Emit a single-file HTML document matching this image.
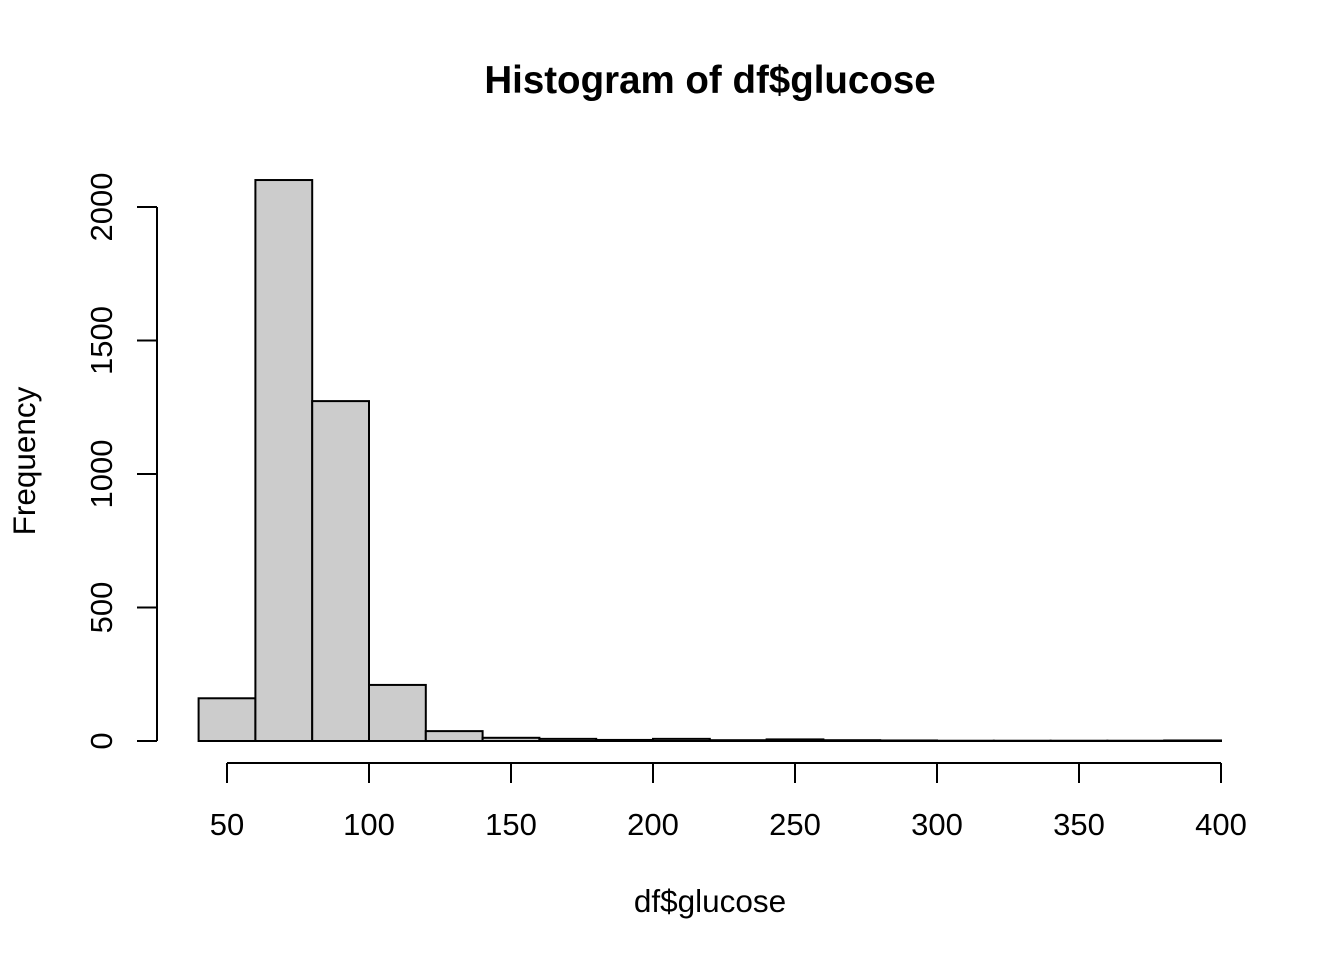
<!DOCTYPE html>
<html><head><meta charset="utf-8"><style>
html,body{margin:0;padding:0;background:#fff;}
svg{display:block;font-family:"Liberation Sans",Arial,sans-serif;}
</style></head><body>
<svg id="chart" width="1344" height="960" viewBox="0 0 1344 960">
<text x="710" y="93" text-anchor="middle" font-size="38.5" font-weight="bold">Histogram of df$glucose</text>
<text x="710" y="912" text-anchor="middle" font-size="31.5">df$glucose</text>
<text transform="translate(35,461) rotate(-90)" text-anchor="middle" font-size="31.5">Frequency</text>
<g id="bars"></g>
<g id="xaxis"></g>
<g id="yaxis"></g>
</svg>
<script>
const binStarts = [40,60,80,100,120,140,160,180,200,220,240,260,280,300,320,340,360,380];
const binWidth = 20;
const counts = [160,2101,1273,210,37,12,8,4,8,3,6,3,2,1,1,1,1,2];
const xTicks = [50,100,150,200,250,300,350,400];
const yTicks = [0,500,1000,1500,2000];

const NS = "http://www.w3.org/2000/svg";
const xs = v => 227 + (v - 50) * (994 / 350);
const ys = v => 741 - v * (534 / 2000);
function mk(tag, attrs, parent){const e=document.createElementNS(NS,tag);for(const k in attrs)e.setAttribute(k,attrs[k]);parent.appendChild(e);return e;}
const bars=document.getElementById('bars'), xa=document.getElementById('xaxis'), ya=document.getElementById('yaxis');
binStarts.forEach((b,i)=>{
  const r=mk('rect',{x:xs(b),y:ys(counts[i]),width:xs(b+binWidth)-xs(b),height:ys(0)-ys(counts[i]),fill:'#cccccc',stroke:'#000','stroke-width':2},bars);
  
  
});
mk('line',{x1:xs(xTicks[0]),x2:xs(xTicks[xTicks.length-1]),y1:763,y2:763,stroke:'#000','stroke-width':2},xa);
xTicks.forEach(t=>{
  mk('line',{x1:xs(t),x2:xs(t),y1:763,y2:783,stroke:'#000','stroke-width':2},xa);
  const tx=mk('text',{x:xs(t),y:835,'text-anchor':'middle','font-size':31},xa);
  tx.textContent=t;
  
  
});
mk('line',{x1:157,x2:157,y1:ys(yTicks[0]),y2:ys(yTicks[yTicks.length-1]),stroke:'#000','stroke-width':2},ya);
yTicks.forEach(t=>{
  mk('line',{x1:137,x2:157,y1:ys(t),y2:ys(t),stroke:'#000','stroke-width':2},ya);
  const tx=mk('text',{transform:`translate(112,${ys(t)}) rotate(-90)`,'text-anchor':'middle','font-size':31},ya);
  tx.textContent=t;
  
  
});
</script>
</body></html>
